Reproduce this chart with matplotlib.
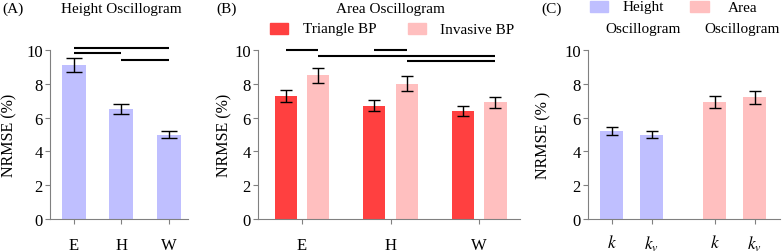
import matplotlib
matplotlib.use('Agg')
import matplotlib.pyplot as plt
from matplotlib.patches import Rectangle

plt.rcParams['font.family'] = ['Liberation Serif', 'DejaVu Serif']
plt.rcParams['mathtext.fontset'] = 'stix'
plt.rcParams['font.size'] = 11

# panel A - height oscillogram
a_cats = ['E', 'H', 'W']
a_vals = [9.1, 6.5, 5.0]
a_errs = [0.4, 0.3, 0.2]
a_sig = [(0, 2, 10.1), (0, 1, 9.8), (1, 2, 9.4)]

# panel B - area oscillogram
b_cats = ['E', 'H', 'W']
b_tri = [7.3, 6.7, 6.4]
b_tri_err = [0.35, 0.33, 0.3]
b_inv = [8.5, 8.0, 6.9]
b_inv_err = [0.45, 0.45, 0.33]
# (group, series) pairs, series 0 = triangle, 1 = invasive
b_sig = [((0, 0), (0, 1), 10.0), ((0, 1), (2, 1), 9.66),
         ((1, 0), (1, 1), 10.0), ((1, 1), (2, 1), 9.37)]

# panel C
c_labels = [r'$k$', r'$k_v$', r'$k$', r'$k_v$']
c_vals = [5.2, 5.0, 6.9, 7.2]
c_errs = [0.25, 0.2, 0.35, 0.4]
c_groups = ['Height\nOscillogram', 'Area\nOscillogram']

lavender = '#BFBFFF'
red = '#FF4040'
pink = '#FFBFBF'
gray = '#808080'

W, H = 782, 253
fig = plt.figure(figsize=(W / 100, H / 100), dpi=100)


def px_axes(left, right, bottom, top):
    return fig.add_axes([left / W, 1 - bottom / H, (right - left) / W, (bottom - top) / H])


def style(ax, label_x, label='NRMSE (%)'):
    for s in ['top', 'right']:
        ax.spines[s].set_visible(False)
    for s in ['left', 'bottom']:
        ax.spines[s].set_color(gray)
        ax.spines[s].set_linewidth(0.8)
    ax.tick_params(axis='both', color=gray, length=3.8, width=0.8, labelsize=12)
    ax.tick_params(axis='x', pad=9)
    ax.tick_params(axis='y', pad=1.5)
    ax.set_ylim(0, 10)
    ax.set_yticks([0, 2, 4, 6, 8, 10])
    ax.set_ylabel(label, fontsize=11.5)
    ax.yaxis.set_label_coords(label_x, 0.5)


def fig_patch(x0, x1, y0, y1, color):
    fig.patches.append(Rectangle((x0 / W, 1 - y1 / H), (x1 - x0) / W, (y1 - y0) / H,
                                 transform=fig.transFigure, color=color, figure=fig))


def fig_text(x, y, s, **kw):
    fig.text(x / W, 1 - y / H, s, va='center', **kw)


# ---- A ----
axA = px_axes(50, 188, 220, 51)
xa = list(range(len(a_cats)))
axA.bar(xa, a_vals, width=0.505, color=lavender)
axA.errorbar(xa, a_vals, yerr=a_errs, fmt='none', ecolor='black', elinewidth=1, capsize=5.5, capthick=1)
for i, j, y in a_sig:
    axA.plot([i, j], [y, y], color='black', lw=1.5, clip_on=False, solid_capstyle='butt')
axA.set_xlim(-0.505, 2.4)
axA.set_xticks(xa)
axA.set_xticklabels(a_cats)
style(axA, -0.239)

# ---- B ----
axB = px_axes(258, 520, 220, 51)
xb = list(range(len(b_cats)))
off = 0.186
bw = 0.249
axB.bar([x - off for x in xb], b_tri, width=bw, color=red, label='Triangle BP')
axB.bar([x + off for x in xb], b_inv, width=bw, color=pink, label='Invasive BP')
axB.errorbar([x - off for x in xb], b_tri, yerr=b_tri_err, fmt='none', ecolor='black', elinewidth=1, capsize=4, capthick=1)
axB.errorbar([x + off for x in xb], b_inv, yerr=b_inv_err, fmt='none', ecolor='black', elinewidth=1, capsize=4, capthick=1)
for (g1, s1), (g2, s2), y in b_sig:
    x1 = g1 + (off if s1 else -off)
    x2 = g2 + (off if s2 else -off)
    axB.plot([x1, x2], [y, y], color='black', lw=1.5, clip_on=False, solid_capstyle='butt')
axB.set_xlim(-0.497, 2.463)
axB.set_xticks(xb)
axB.set_xticklabels(b_cats)
style(axB, -0.099)

# ---- C ----
axC = px_axes(588, 780, 220, 51)
xc = [0, 1, 2.575, 3.575]
c_colors = [lavender, lavender, pink, pink]
axC.bar(xc, c_vals, width=0.575, color=c_colors)
axC.errorbar(xc, c_vals, yerr=c_errs, fmt='none', ecolor='black', elinewidth=1, capsize=4.3, capthick=1)
axC.set_xlim(-0.5875, 4.21)
axC.set_xticks(xc)
axC.set_xticklabels(c_labels)
style(axC, -0.193, 'NRMSE (% )')
axC.tick_params(axis='x', labelsize=12.5, pad=7)

# titles, panel letters, legends
fig_text(2, 9, '(A)')
fig_text(121, 9, 'Height Oscillogram', ha='center')
fig_text(216, 9, '(B)')
fig_text(390, 9, 'Area Oscillogram', ha='center')
fig_text(541, 9, '(C)')

fig_patch(270, 288, 24, 35, red)
fig_text(303, 30, 'Triangle BP')
fig_patch(408, 426, 24, 35, pink)
fig_text(440, 30, 'Invasive BP')

fig_patch(590, 608, 2, 13, lavender)
fig_patch(690, 709, 2, 13, pink)
for cx, lab in zip([643, 742.5], c_groups):
    top, bottom = lab.split('\n')
    fig_text(cx, 8, top, ha='center')
    fig_text(cx, 30, bottom, ha='center')

fig.savefig('out.png', dpi=100)
